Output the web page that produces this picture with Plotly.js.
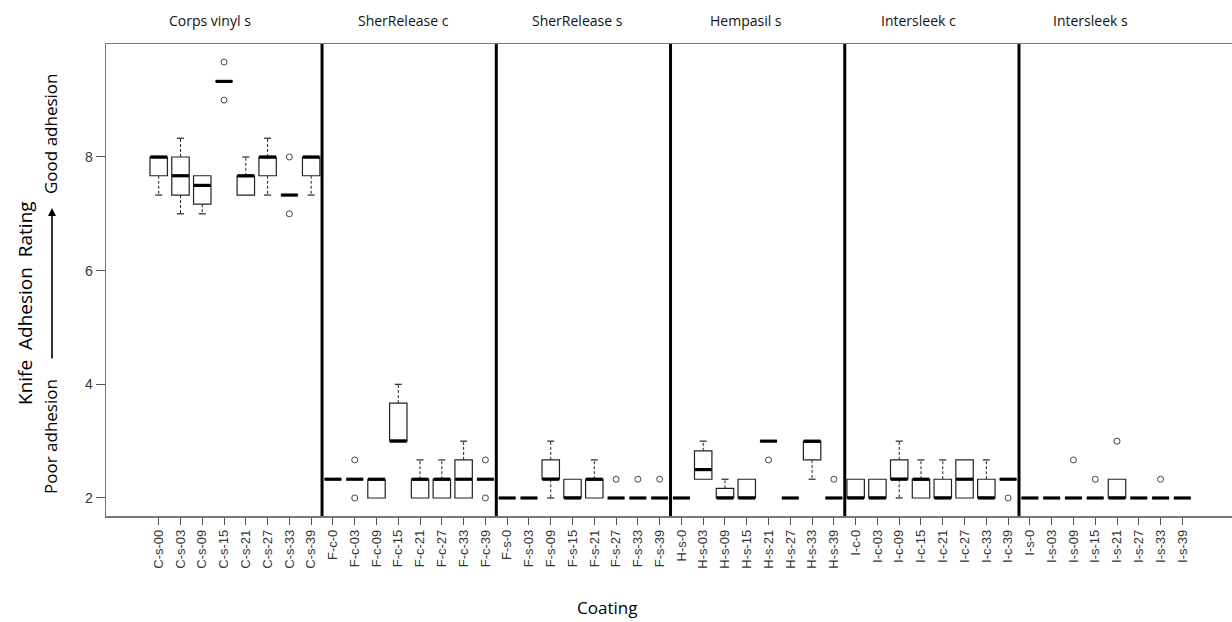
<!DOCTYPE html>
<html>
<head>
<meta charset="utf-8">
<script src="https://cdn.plot.ly/plotly-3.0.1.min.js"></script>
<style>html,body{margin:0;padding:0;background:#fff;overflow:hidden}</style>
</head>
<body>
<div id="chart" style="width:1232px;height:622px"></div>
<script>
// ---------- data ----------
const categories = [
  'C-s-00','C-s-03','C-s-09','C-s-15','C-s-21','C-s-27','C-s-33','C-s-39',
  'F-c-0','F-c-03','F-c-09','F-c-15','F-c-21','F-c-27','F-c-33','F-c-39',
  'F-s-0','F-s-03','F-s-09','F-s-15','F-s-21','F-s-27','F-s-33','F-s-39',
  'H-s-0','H-s-03','H-s-09','H-s-15','H-s-21','H-s-27','H-s-33','H-s-39',
  'I-c-0','I-c-03','I-c-09','I-c-15','I-c-21','I-c-27','I-c-33','I-c-39',
  'I-s-0','I-s-03','I-s-09','I-s-15','I-s-21','I-s-27','I-s-33','I-s-39'
];
const groupNames = ['Corps vinyl s','SherRelease c','SherRelease s','Hempasil s','Intersleek c','Intersleek s'];

const q1 = [
  7.67, 7.33, 7.17, 9.33, 7.33, 7.67, 7.33, 7.67,
  2.33, 2.33, 2.00, 3.00, 2.00, 2.00, 2.00, 2.33,
  2.00, 2.00, 2.33, 2.00, 2.00, 2.00, 2.00, 2.00,
  2.00, 2.33, 2.00, 2.00, 3.00, 2.00, 2.67, 2.00,
  2.00, 2.00, 2.33, 2.00, 2.00, 2.00, 2.00, 2.33,
  2.00, 2.00, 2.00, 2.00, 2.00, 2.00, 2.00, 2.00
];
const medians = [
  8.00, 7.67, 7.50, 9.33, 7.67, 8.00, 7.33, 8.00,
  2.33, 2.33, 2.33, 3.00, 2.33, 2.33, 2.33, 2.33,
  2.00, 2.00, 2.33, 2.00, 2.33, 2.00, 2.00, 2.00,
  2.00, 2.50, 2.00, 2.00, 3.00, 2.00, 3.00, 2.00,
  2.00, 2.00, 2.33, 2.33, 2.00, 2.33, 2.00, 2.33,
  2.00, 2.00, 2.00, 2.00, 2.00, 2.00, 2.00, 2.00
];
const q3 = [
  8.00, 8.00, 7.67, 9.33, 7.67, 8.00, 7.33, 8.00,
  2.33, 2.33, 2.33, 3.67, 2.33, 2.33, 2.67, 2.33,
  2.00, 2.00, 2.67, 2.33, 2.33, 2.00, 2.00, 2.00,
  2.00, 2.83, 2.17, 2.33, 3.00, 2.00, 3.00, 2.00,
  2.33, 2.33, 2.67, 2.33, 2.33, 2.67, 2.33, 2.33,
  2.00, 2.00, 2.00, 2.00, 2.33, 2.00, 2.00, 2.00
];
const whiskerLow = [
  7.33, 7.00, 7.00, 9.33, 7.33, 7.33, 7.33, 7.33,
  2.33, 2.33, 2.00, 3.00, 2.00, 2.00, 2.00, 2.33,
  2.00, 2.00, 2.00, 2.00, 2.00, 2.00, 2.00, 2.00,
  2.00, 2.33, 2.00, 2.00, 3.00, 2.00, 2.33, 2.00,
  2.00, 2.00, 2.00, 2.00, 2.00, 2.00, 2.00, 2.33,
  2.00, 2.00, 2.00, 2.00, 2.00, 2.00, 2.00, 2.00
];
const whiskerHigh = [
  8.00, 8.33, 7.67, 9.33, 8.00, 8.33, 7.33, 8.00,
  2.33, 2.33, 2.33, 4.00, 2.67, 2.67, 3.00, 2.33,
  2.00, 2.00, 3.00, 2.33, 2.67, 2.00, 2.00, 2.00,
  2.00, 3.00, 2.33, 2.33, 3.00, 2.00, 3.00, 2.00,
  2.33, 2.33, 3.00, 2.67, 2.67, 2.67, 2.67, 2.33,
  2.00, 2.00, 2.00, 2.00, 2.33, 2.00, 2.00, 2.00
];
const outlierCats = ['C-s-15','C-s-15','C-s-33','C-s-33','F-c-03','F-c-03','F-c-39','F-c-39',
  'F-s-27','F-s-33','F-s-39','H-s-21','H-s-39','I-c-39','I-s-09','I-s-15','I-s-21','I-s-33'];
const outlierVals = [9.67, 9.00, 8.00, 7.00, 2.67, 2.00, 2.67, 2.00,
  2.33, 2.33, 2.33, 2.67, 2.33, 2.00, 2.67, 2.33, 3.00, 2.33];
const yTicks = [2, 4, 6, 8];

// ---------- build traces ----------
const ink = '#222';
const wx = [], wy = [], cx = [], cy = [];
categories.forEach((c, i) => {
  if (whiskerHigh[i] > q3[i]) { wx.push(c, c, null); wy.push(q3[i], whiskerHigh[i], null); cx.push(c); cy.push(whiskerHigh[i]); }
  if (whiskerLow[i] < q1[i])  { wx.push(c, c, null); wy.push(q1[i], whiskerLow[i], null); cx.push(c); cy.push(whiskerLow[i]); }
});

const traces = [
  { type: 'scatter', mode: 'lines', x: wx, y: wy, connectgaps: false,
    line: { color: ink, width: 1, dash: '3px,2px' }, hoverinfo: 'skip' },
  { type: 'scatter', mode: 'markers', x: cx, y: cy,
    marker: { symbol: 'line-ew', size: 5, line: { color: ink, width: 1.2 } }, hoverinfo: 'skip' },
  { type: 'box', x: categories, q1: q1, median: medians, q3: q3,
    lowerfence: q1, upperfence: q3, boxpoints: false, width: 0.8,
    fillcolor: 'rgba(255,255,255,0)', line: { color: ink, width: 1.2 }, hoverinfo: 'skip' },
  { type: 'scatter', mode: 'markers', x: categories, y: medians,
    marker: { symbol: 'line-ew', size: 12, line: { color: '#000', width: 3.2 } }, hoverinfo: 'skip' },
  { type: 'scatter', mode: 'markers', x: outlierCats, y: outlierVals,
    marker: { symbol: 'circle-open', size: 6, color: '#444', line: { color: '#444', width: 1 } }, hoverinfo: 'skip' }
];

// ---------- layout ----------
const plotL = 106, plotW = 1126;
const px = p => (p - plotL) / plotW;
const shapes = [];
for (let g = 1; g < groupNames.length; g++) {
  shapes.push({ type: 'line', xref: 'x', yref: 'paper', x0: g * 8 - 0.5, x1: g * 8 - 0.5, y0: 0, y1: 1,
    line: { color: '#000', width: 3 } });
}
const titleX = [210, 403, 577, 746, 918, 1090];
const annotations = groupNames.map((t, i) => ({
  text: t, xref: 'paper', yref: 'paper', x: px(titleX[i]), y: 1, yshift: 24,
  showarrow: false, xanchor: 'center', yanchor: 'middle',
  font: { family: 'Open Sans', size: 14, color: '#111' }
}));
annotations.push(
  { text: 'Knife  Adhesion  Rating', xref: 'paper', yref: 'paper', x: px(25), y: (516 - 303) / 472,
    textangle: -90, showarrow: false, xanchor: 'center', yanchor: 'middle',
    font: { family: 'Open Sans', size: 19, color: '#000' } },
  { text: 'Poor adhesion', xref: 'paper', yref: 'paper', x: px(50), y: (516 - 437) / 472,
    textangle: -90, showarrow: false, xanchor: 'center', yanchor: 'middle',
    font: { family: 'Open Sans', size: 17, color: '#000' } },
  { text: 'Good adhesion', xref: 'paper', yref: 'paper', x: px(50), y: (516 - 134) / 472,
    textangle: -90, showarrow: false, xanchor: 'center', yanchor: 'middle',
    font: { family: 'Open Sans', size: 17, color: '#000' } },
  { text: '', xref: 'paper', yref: 'paper', x: px(52), y: (516 - 208) / 472,
    ax: 0, ay: 152, showarrow: true, arrowhead: 2, arrowsize: 1, arrowwidth: 1.6, arrowcolor: '#000' },
  { text: 'Coating', xref: 'paper', yref: 'paper', x: px(607), y: 0, yshift: -91,
    showarrow: false, xanchor: 'center', yanchor: 'middle',
    font: { family: 'Open Sans', size: 17, color: '#000' } }
);

const layout = {
  width: 1232, height: 622,
  margin: { l: plotL, r: 0, t: 44, b: 106, pad: 0 },
  paper_bgcolor: '#fff', plot_bgcolor: '#fff',
  showlegend: false,
  xaxis: {
    type: 'category', categoryorder: 'array', categoryarray: categories,
    range: [-2.42, 49.28], showgrid: false, zeroline: false,
    showline: true, mirror: true, linecolor: '#777', linewidth: 1.5,
    ticks: 'outside', ticklen: 7, tickwidth: 1, tickcolor: '#555',
    tickangle: -90, tickfont: { family: 'Liberation Sans', size: 13, color: '#333' }
  },
  yaxis: {
    range: [1.683, 9.988], tickvals: yTicks, ticktext: yTicks.map(String),
    showgrid: false, zeroline: false,
    showline: true, linecolor: '#777', linewidth: 1.5,
    ticks: 'outside', ticklen: 9, tickwidth: 1, tickcolor: '#555',
    tickfont: { family: 'Liberation Sans', size: 14, color: '#333' }
  },
  shapes: shapes,
  annotations: annotations
};

Plotly.newPlot('chart', traces, layout, { displayModeBar: false, staticPlot: true });
</script>
</body>
</html>
